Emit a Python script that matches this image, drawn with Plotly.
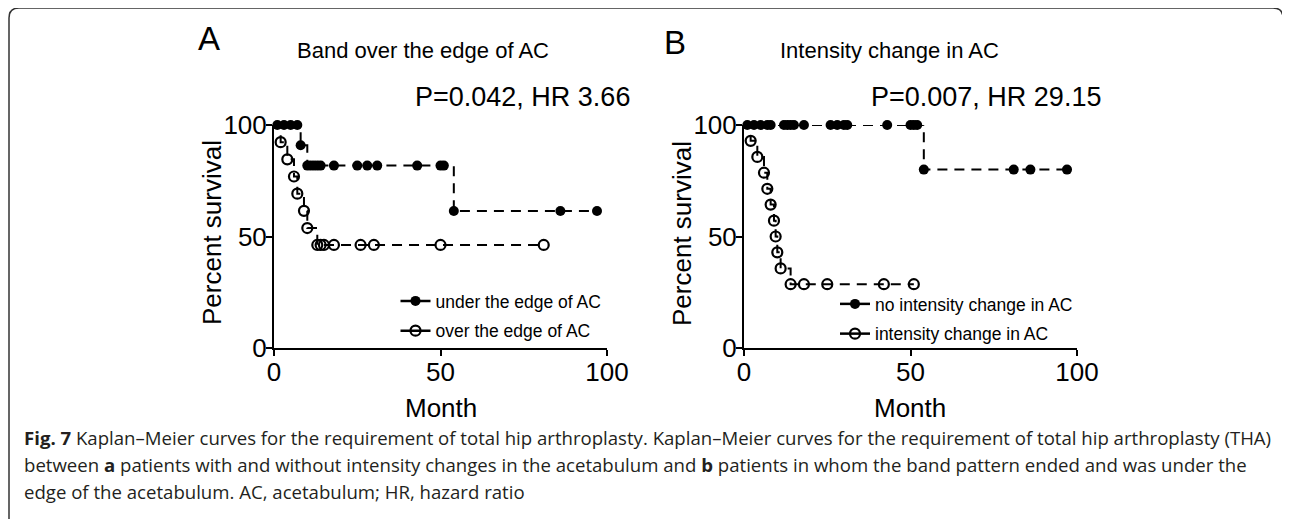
import plotly.graph_objects as go

# ---------------- data ----------------
# Panel A: Band over the edge of AC
a_under_t = [0, 1, 3, 5, 7, 8, 10, 11, 12, 13, 14, 18, 25, 28, 31, 43, 50, 51, 54, 86, 97]
a_under_s = [100, 100, 100, 100, 100, 90.9, 81.8, 81.8, 81.8, 81.8, 81.8, 81.8, 81.8, 81.8, 81.8,
             81.8, 81.8, 81.8, 61.4, 61.4, 61.4]
a_over_t = [0, 2, 4, 6, 7, 9, 10, 13, 14, 15, 18, 26, 30, 50, 81]
a_over_s = [100, 92.3, 84.6, 76.9, 69.2, 61.5, 53.8, 46.2, 46.2, 46.2, 46.2, 46.2, 46.2, 46.2, 46.2]

# Panel B: Intensity change in AC
b_none_t = [0, 1, 3, 5, 7, 8, 12, 13, 14, 15, 18, 26, 28, 30, 31, 43, 50, 51, 52, 54, 81, 86, 97]
b_none_s = [100] * 19 + [80, 80, 80, 80]
b_chg_t = [0, 2, 4, 6, 7, 8, 9, 9.5, 10, 11, 14, 18, 25, 42, 51]
b_chg_s = [100, 92.9, 85.7, 78.6, 71.4, 64.3, 57.1, 50.0, 42.9, 35.7, 28.6, 28.6, 28.6, 28.6, 28.6]

tick_vals = [0, 50, 100]
titles = ["Band over the edge of AC", "Intensity change in AC"]
stats = ["P=0.042, HR 3.66", "P=0.007, HR 29.15"]
panel_labels = ["A", "B"]
legend_a = ["under the edge of AC", "over the edge of AC"]
legend_b = ["no intensity change in AC", "intensity change in AC"]
caption = [
    "<b>Fig. 7</b> Kaplan\u2013Meier curves for the requirement of total hip arthroplasty. Kaplan\u2013Meier curves for the requirement of total hip arthroplasty (THA)",
    "between <b>a</b> patients with and without intensity changes in the acetabulum and <b>b</b> patients in whom the band pattern ended and was under the",
    "edge of the acetabulum. AC, acetabulum; HR, hazard ratio",
]

# ---------------- layout helpers ----------------
W, H = 1290, 519
OFF = 8  # the page shows the figure offset by the body margin
def px(x):
    return (x - OFF) / W
def py(y):
    return 1 - (y - OFF) / H

FONT = "Liberation Sans, Arial, sans-serif"
DASH = "10px,7px"
MSIZE = 10

fig = go.Figure()

def add_curve(t, s, xa, ya, open_marker):
    sizes = [0] + [MSIZE] * (len(t) - 1)
    if open_marker:
        marker = dict(symbol="circle-open", size=sizes, color="black", opacity=1,
                      line=dict(width=2.2, color="black"))
    else:
        marker = dict(symbol="circle", size=sizes, color="black", opacity=1, line=dict(width=0))
    fig.add_trace(go.Scatter(
        x=t, y=s, mode="lines+markers", xaxis=xa, yaxis=ya,
        line=dict(shape="hv", dash=DASH, width=2, color="black"),
        marker=marker, showlegend=False, cliponaxis=False, hoverinfo="x+y"))

def add_legend_item(name, legend, group, open_marker):
    if open_marker:
        marker = dict(symbol="circle-open", size=MSIZE, color="black", opacity=1,
                      line=dict(width=2.2, color="black"))
    else:
        marker = dict(symbol="circle", size=MSIZE, color="black", opacity=1, line=dict(width=0))
    fig.add_trace(go.Scatter(
        x=[None], y=[None], mode="lines+markers", name=name, legend=legend,
        legendgroup=group, line=dict(width=2.5, color="black"), marker=marker,
        xaxis="x", yaxis="y"))

add_curve(a_under_t, a_under_s, "x", "y", False)
add_curve(a_over_t, a_over_s, "x", "y", True)
add_curve(b_none_t, b_none_s, "x2", "y2", False)
add_curve(b_chg_t, b_chg_s, "x2", "y2", True)

add_legend_item(legend_a[0], "legend", "a1", False)
add_legend_item(legend_a[1], "legend", "a2", True)
add_legend_item(legend_b[0], "legend2", "b1", False)
add_legend_item(legend_b[1], "legend2", "b2", True)

axis_common = dict(
    showline=True, linecolor="black", linewidth=2, ticks="outside", ticklen=6,
    tickwidth=2, tickcolor="black", tickvals=tick_vals, range=[0, 100],
    showgrid=False, zeroline=False, tickfont=dict(family=FONT, size=26, color="black"),
    fixedrange=True, automargin=False, ticklabelstandoff=-6,
)

y_dom = [py(348), py(125)]
fig.update_layout(
    width=W, height=H, margin=dict(l=0, r=0, t=0, b=0, pad=0, autoexpand=False),
    paper_bgcolor="white", plot_bgcolor="white",
    xaxis=dict(domain=[px(274), px(607)], anchor="y", **axis_common),
    yaxis=dict(domain=y_dom, anchor="x", **axis_common),
    xaxis2=dict(domain=[px(744), px(1077)], anchor="y2", **axis_common),
    yaxis2=dict(domain=y_dom, anchor="x2", **axis_common),
    legend=dict(x=px(395.5), y=py(283), xanchor="left", yanchor="top",
                font=dict(family=FONT, size=17.5, color="black"),
                bgcolor="rgba(0,0,0,0)", tracegroupgap=4, itemclick=False),
    legend2=dict(x=px(835), y=py(286), xanchor="left", yanchor="top",
                 font=dict(family=FONT, size=17.5, color="black"),
                 bgcolor="rgba(0,0,0,0)", tracegroupgap=4, itemclick=False),
)

ann = []
# panel letters
ann.append(dict(text=panel_labels[0], x=px(209), y=py(39), font=dict(family=FONT, size=33, color="black")))
ann.append(dict(text=panel_labels[1], x=px(675), y=py(43), font=dict(family=FONT, size=33, color="black")))
# titles
ann.append(dict(text=titles[0], x=px(423), y=py(51), font=dict(family=FONT, size=22, color="black")))
ann.append(dict(text=titles[1], x=px(889), y=py(51), font=dict(family=FONT, size=22, color="black")))
# stats (right aligned)
ann.append(dict(text=stats[0], x=px(632), y=py(97), xanchor="right", font=dict(family=FONT, size=27, color="black")))
ann.append(dict(text=stats[1], x=px(1103), y=py(97), xanchor="right", font=dict(family=FONT, size=27, color="black")))
# axis titles
for cx in (441, 910):
    ann.append(dict(text="Month", x=px(cx), y=py(408), font=dict(family=FONT, size=26, color="black")))
for cx in (212, 682):
    ann.append(dict(text="Percent survival", x=px(cx), y=py(233), textangle=-90,
                    font=dict(family=FONT, size=26, color="black")))
# caption
for i, line in enumerate(caption):
    ann.append(dict(text=line, x=px(22), y=py(437 + 27 * i), xanchor="left",
                    font=dict(family="Open Sans, sans-serif", size=18.6, color="#231f20")))

for a in ann:
    a.setdefault("xanchor", "center")
    a.update(xref="paper", yref="paper", yanchor="middle", showarrow=False)
fig.update_layout(annotations=ann)

# rounded frame around the figure
x0, x1, y0, y1, r = 9, 1283, 8, 540, 10
path = (f"M {px(x0 + r)},{py(y0)} L {px(x1 - r)},{py(y0)} "
        f"Q {px(x1)},{py(y0)} {px(x1)},{py(y0 + r)} L {px(x1)},{py(y1 - r)} "
        f"Q {px(x1)},{py(y1)} {px(x1 - r)},{py(y1)} L {px(x0 + r)},{py(y1)} "
        f"Q {px(x0)},{py(y1)} {px(x0)},{py(y1 - r)} L {px(x0)},{py(y0 + r)} "
        f"Q {px(x0)},{py(y0)} {px(x0 + r)},{py(y0)} Z")
fig.add_shape(type="path", path=path, xref="paper", yref="paper",
              line=dict(color="#333333", width=1.5), layer="below")

fig.write_html("out.html")
